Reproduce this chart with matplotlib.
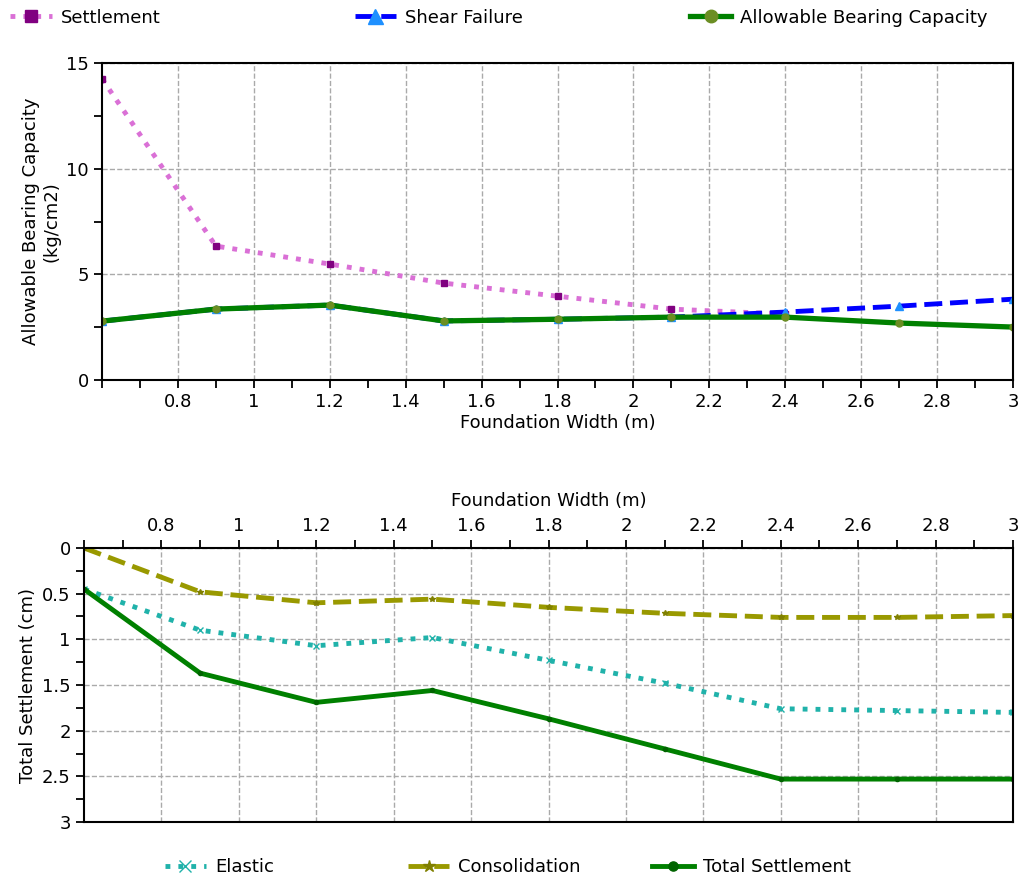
import numpy as np
import matplotlib
matplotlib.use("Agg")
import matplotlib.pyplot as plt
from matplotlib.ticker import MultipleLocator, FixedLocator

plt.rcParams['font.family'] = ['DejaVu Sans']

# foundation widths (m)
width = [0.6, 0.9, 1.2, 1.5, 1.8, 2.1, 2.4, 2.7, 3.0]

# bearing capacity (kg/cm2)
settlement_cap = [14.25, 6.34, 5.49, 4.59, 3.97, 3.36, 3.12, np.nan, np.nan]
shear_cap = [2.79, 3.36, 3.55, 2.80, 2.88, 2.98, 3.22, 3.50, 3.83]
allowable_cap = [2.79, 3.36, 3.55, 2.80, 2.88, 2.98, 2.98, 2.70, 2.51]

# settlement (cm)
elastic = [0.45, 0.90, 1.07, 0.98, 1.23, 1.48, 1.76, 1.78, 1.80]
consolidation = [0.0, 0.48, 0.60, 0.56, 0.65, 0.715, 0.76, 0.76, 0.74]
total = [0.45, 1.37, 1.69, 1.56, 1.87, 2.20, 2.53, 2.53, 2.53]

fig = plt.figure(figsize=(10.22, 8.82), dpi=100)
fs = 13

def style_axes(ax):
    for s in ax.spines.values():
        s.set_linewidth(1.5)
        s.set_color('black')
    ax.tick_params(which='both', direction='out', width=1.3, labelsize=fs)
    ax.tick_params(which='major', length=6)
    ax.tick_params(which='minor', length=6)
    ax.grid(True, which='major', color='#aaaaaa', linestyle='--', linewidth=1)

def row_legend(handles, labels, xs, y, mscale):
    # one small legend per entry so each one sits where the reference has it
    for h, l, x in zip(handles, labels, xs):
        fig.legend([h], [l], loc='center left', bbox_to_anchor=(x, y),
                   frameon=False, fontsize=fs, markerscale=mscale,
                   handlelength=2.3, handletextpad=0.5, borderpad=0,
                   borderaxespad=0)

# --- top: bearing capacity ---
ax1 = fig.add_axes([0.0998, 0.569, 0.8914, 0.3596])
ax1.plot(width, settlement_cap, color='#DA70D6', linestyle=':', linewidth=3.5,
         marker='s', markersize=5, markerfacecolor='#800080', markeredgecolor='#800080',
         label='Settlement')
ax1.plot(width, shear_cap, color='#0000FF', linestyle='--', linewidth=3.5,
         marker='^', markersize=6, markerfacecolor='#1E90FF', markeredgecolor='#1E90FF',
         label='Shear Failure')
ax1.plot(width, allowable_cap, color='#008000', linestyle='-', linewidth=3.8,
         marker='o', markersize=5, markerfacecolor='#6B8E23', markeredgecolor='#6B8E23',
         label='Allowable Bearing Capacity')
ax1.set_xlim(0.6, 3.0)
ax1.set_ylim(0, 15)
ax1.xaxis.set_major_locator(FixedLocator([0.8, 1.0, 1.2, 1.4, 1.6, 1.8, 2.0, 2.2, 2.4, 2.6, 2.8, 3.0]))
ax1.xaxis.set_major_formatter(plt.FuncFormatter(lambda v, p: f"{v:g}"))
ax1.xaxis.set_minor_locator(MultipleLocator(0.1))
ax1.yaxis.set_major_locator(MultipleLocator(5))
ax1.yaxis.set_minor_locator(MultipleLocator(2.5))
style_axes(ax1)
ax1.set_xlabel('Foundation Width (m)', fontsize=fs, labelpad=2)
ax1.set_ylabel('Allowable Bearing Capacity\n(kg/cm2)', fontsize=fs)

h1, l1 = ax1.get_legend_handles_labels()
row_legend(h1, l1, [0.010, 0.347, 0.675], 0.980, 1.8)

# --- bottom: settlement ---
ax2 = fig.add_axes([0.0822, 0.068, 0.9090, 0.3107])
ax2.plot(width, elastic, color='#20B2AA', linestyle=':', linewidth=3.5,
         marker='x', markersize=4, markeredgecolor='#20B2AA', label='Elastic')
ax2.plot(width, consolidation, color='#999900', linestyle='--', linewidth=3.5,
         marker='*', markersize=4, markerfacecolor='#808000', markeredgecolor='#808000',
         label='Consolidation')
ax2.plot(width, total, color='#008000', linestyle='-', linewidth=3.5,
         marker='o', markersize=3, markerfacecolor='#006400', markeredgecolor='#006400',
         label='Total Settlement')
ax2.set_xlim(0.6, 3.0)
ax2.set_ylim(3, 0)
ax2.xaxis.tick_top()
ax2.xaxis.set_label_position('top')
ax2.xaxis.set_major_locator(FixedLocator([0.8, 1.0, 1.2, 1.4, 1.6, 1.8, 2.0, 2.2, 2.4, 2.6, 2.8, 3.0]))
ax2.xaxis.set_major_formatter(plt.FuncFormatter(lambda v, p: f"{v:g}"))
ax2.xaxis.set_minor_locator(MultipleLocator(0.1))
ax2.yaxis.set_major_locator(MultipleLocator(0.5))
ax2.yaxis.set_major_formatter(plt.FuncFormatter(lambda v, p: f"{v:g}"))
ax2.yaxis.set_minor_locator(MultipleLocator(0.25))
style_axes(ax2)
ax2.set_xlabel('Foundation Width (m)', fontsize=fs, labelpad=8)
ax2.set_ylabel('Total Settlement (cm)', fontsize=fs)

h2, l2 = ax2.get_legend_handles_labels()
row_legend(h2, l2, [0.161, 0.399, 0.638], 0.017, 2.2)

fig.savefig('out.png', dpi=100)
